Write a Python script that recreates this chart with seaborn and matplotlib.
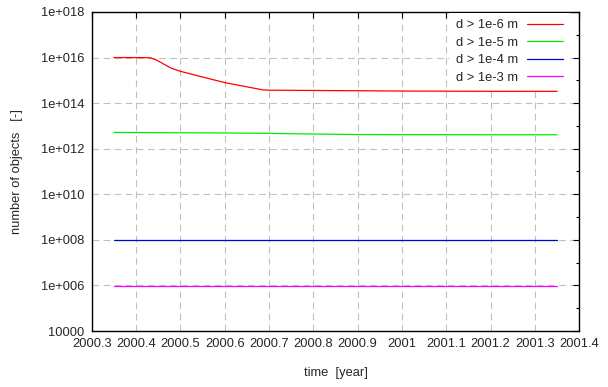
import numpy as np
import pandas as pd
import matplotlib
matplotlib.use("Agg")
import matplotlib.pyplot as plt
import matplotlib.ticker as mticker
import seaborn as sns

# --------------------------------------------------------------------------
# Valeurs
# --------------------------------------------------------------------------
t_d6 = [2000.35, 2000.40, 2000.432, 2000.445, 2000.458, 2000.47, 2000.48,
        2000.50, 2000.55, 2000.60, 2000.65, 2000.687, 2000.70, 2000.80,
        2000.90, 2001.00, 2001.10, 2001.20, 2001.35]
n_d6 = [1.0e16, 1.0e16, 9.8e15, 8.0e15, 5.8e15, 4.3e15, 3.4e15,
        2.5e15, 1.4e15, 8.0e14, 5.2e14, 3.8e14, 3.7e14, 3.6e14,
        3.5e14, 3.4e14, 3.35e14, 3.3e14, 3.3e14]

t_d5 = [2000.35, 2000.50, 2000.60, 2000.70, 2000.80, 2000.90, 2001.00,
        2001.20, 2001.35]
n_d5 = [5.2e12, 5.0e12, 4.9e12, 4.7e12, 4.4e12, 4.2e12, 4.15e12,
        4.1e12, 4.1e12]

t_d4 = [2000.35, 2001.35]
n_d4 = [1.0e8, 1.0e8]

t_d3 = [2000.35, 2001.35]
n_d3 = [9.3e5, 9.3e5]

labels = ["d > 1e-6 m", "d > 1e-5 m", "d > 1e-4 m", "d > 1e-3 m"]
colors = ["#ff0000", "#00ee00", "#0000e0", "#ff00ff"]

x_ticks = [2000.3, 2000.4, 2000.5, 2000.6, 2000.7, 2000.8, 2000.9,
           2001.0, 2001.1, 2001.2, 2001.3, 2001.4]
x_ticklabels = ["2000.3", "2000.4", "2000.5", "2000.6", "2000.7", "2000.8",
                "2000.9", "2001", "2001.1", "2001.2", "2001.3", "2001.4"]
y_ticks = [1e4, 1e6, 1e8, 1e10, 1e12, 1e14, 1e16, 1e18]
y_ticklabels = ["10000", "1e+006", "1e+008", "1e+010", "1e+012",
                "1e+014", "1e+016", "1e+018"]
y_minor = [1e5, 1e7, 1e9, 1e11, 1e13, 1e15, 1e17]

# table longue pour seaborn
frames = []
for lab, t, n in zip(labels, [t_d6, t_d5, t_d4, t_d3],
                     [n_d6, n_d5, n_d4, n_d3]):
    frames.append(pd.DataFrame({"time": t, "n": n, "size": lab}))
df = pd.concat(frames, ignore_index=True)

sns.set_style("white")
plt.rcParams["font.family"] = ["Liberation Sans", "DejaVu Sans"]
FS = 9.3

fig = plt.figure(figsize=(6.08, 3.87), dpi=100)
ax = fig.add_axes([0.1508, 0.1447, 0.8020, 0.8243])

sns.lineplot(data=df, x="time", y="n", hue="size", hue_order=labels,
             palette=dict(zip(labels, colors)), estimator=None, sort=False,
             linewidth=0.9, ax=ax)
ax.set_yscale("log")

ax.set_xlim(2000.3, 2001.4)
ax.set_ylim(1e4, 1e18)
ax.set_xticks(x_ticks)
ax.set_xticklabels(x_ticklabels, fontsize=FS)
ax.set_yticks(y_ticks)
ax.set_yticklabels(y_ticklabels, fontsize=FS)
ax.yaxis.set_minor_locator(mticker.FixedLocator(y_minor))
ax.yaxis.set_minor_formatter(mticker.NullFormatter())
ax.xaxis.set_minor_locator(mticker.NullLocator())

ax.tick_params(which="both", direction="in", top=True, right=True,
               width=0.8, color="black")
ax.tick_params(which="major", length=4.5, pad=5)
ax.tick_params(which="minor", length=2.5)
for sp in ax.spines.values():
    sp.set_color("black")
    sp.set_linewidth(1.0)

ax.grid(True, which="major", color="#c0c0c0", linestyle=(0, (6, 4)),
        linewidth=0.8)
ax.set_axisbelow(True)

ax.set_xlabel("time  [year]", fontsize=FS)
ax.set_ylabel("number of objects   [-]", fontsize=FS)
ax.xaxis.set_label_coords(0.5, -0.113)
ax.yaxis.set_label_coords(-0.141, 0.5)

leg = ax.legend(loc="upper right", bbox_to_anchor=(0.980, 0.997),
                borderaxespad=0, markerfirst=False, frameon=True,
                fancybox=False, framealpha=1, edgecolor="none",
                facecolor="white", fontsize=FS, handlelength=2.8,
                handletextpad=0.7, labelspacing=0.42, borderpad=0.5,
                title=None)
for h in leg.get_lines():
    h.set_linewidth(0.9)
for txt in leg.get_texts():
    txt.set_ha("right")
leg._legend_box.align = "right"

fig.savefig("out.png", dpi=100)
